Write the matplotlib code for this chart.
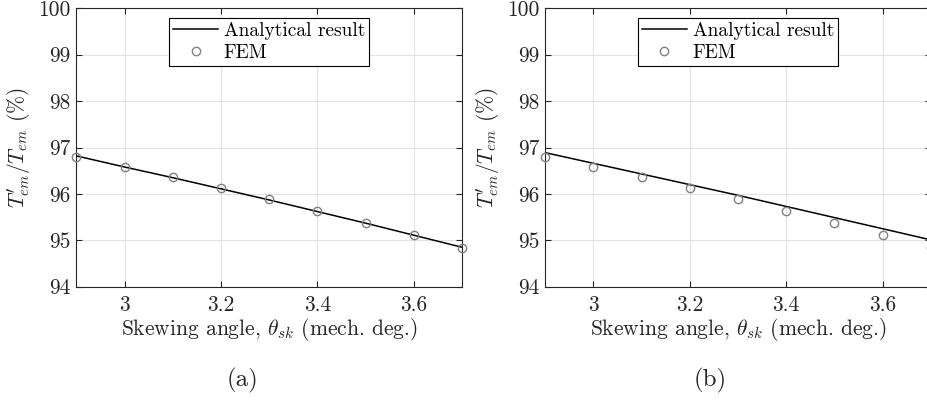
import matplotlib
matplotlib.use("Agg")
import matplotlib.pyplot as plt

# data
skew_angle = [2.9, 3.0, 3.1, 3.2, 3.3, 3.4, 3.5, 3.6, 3.7]
fem = [96.80, 96.59, 96.36, 96.12, 95.88, 95.63, 95.38, 95.11, 94.83]
analytical_a = [96.82, 96.58, 96.35, 96.11, 95.87, 95.62, 95.37, 95.11, 94.85]
analytical_b = [96.89, 96.66, 96.43, 96.20, 95.97, 95.73, 95.49, 95.25, 95.01]

xticks = [3.0, 3.2, 3.4, 3.6]
xticklabels = ['3', '3.2', '3.4', '3.6']
yticks = [94, 95, 96, 97, 98, 99, 100]
yticklabels = ['94', '95', '96', '97', '98', '99', '100']
panel_labels = ['(a)', '(b)']

plt.rcParams['font.family'] = 'cmr10'
plt.rcParams['mathtext.fontset'] = 'cm'
plt.rcParams['axes.formatter.use_mathtext'] = True

dark = '#262626'
fig = plt.figure(figsize=(9.27, 4.01), dpi=100)

ax_a = fig.add_axes([0.0823, 0.285, 0.4161, 0.6943])
ax_b = fig.add_axes([0.588, 0.285, 0.4161, 0.6943])

for ax, analytical, lab, xc in zip([ax_a, ax_b], [analytical_a, analytical_b],
                                   panel_labels, [242, 710]):
    ax.plot(skew_angle, analytical, color='black', lw=1.1, label='Analytical result', zorder=3)
    ax.plot(skew_angle, fem, ls='none', marker='o', ms=6, mfc='none', mec='#808080',
            mew=1.0, label='FEM', zorder=4, clip_on=False)
    ax.set_xlim(2.9, 3.7)
    ax.set_ylim(94, 100)
    ax.set_xticks(xticks)
    ax.set_xticklabels(xticklabels)
    ax.set_yticks(yticks)
    ax.set_yticklabels(yticklabels)
    ax.grid(True, color='#e3e3e3', lw=0.8)
    ax.set_axisbelow(True)
    ax.tick_params(direction='in', length=4, width=0.8, colors=dark, labelsize=15.5,
                   top=True, right=True)
    ax.tick_params(axis='x', pad=6)
    ax.tick_params(axis='y', pad=4)
    for s in ax.spines.values():
        s.set_color(dark)
        s.set_linewidth(0.8)
    ax.set_xlabel(r'Skewing angle, $\theta_{sk}$ (mech. deg.)', fontsize=15.5, color=dark, labelpad=1)
    ax.set_ylabel(r"$T_{em}^{\prime}/T_{em}$ (%)", fontsize=15.5, color=dark, labelpad=4)
    leg = ax.legend(loc='upper center', bbox_to_anchor=(0.5, 0.965), fontsize=14,
                    frameon=True, fancybox=False, framealpha=1, edgecolor='black',
                    handlelength=2.3, handletextpad=0.3, borderpad=0.2, labelspacing=0.2,
                    borderaxespad=0)
    leg.get_frame().set_linewidth(0.8)
    fig.text(xc / 927, 1 - 380 / 401, lab, ha='center', va='center', fontsize=18, color=dark)

fig.savefig('out.png', dpi=100)
